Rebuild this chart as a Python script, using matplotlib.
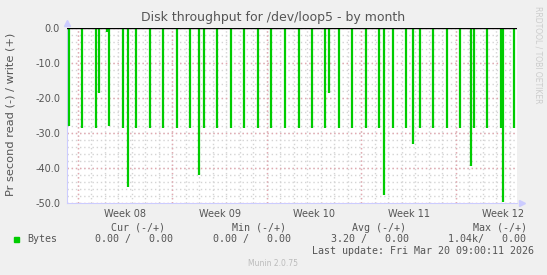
import matplotlib
matplotlib.use("Agg")
import matplotlib.pyplot as plt

# days counted from the start of Week 08 (Monday)
read_days = [-0.67, 0.30, 1.33, 1.56, 2.15, 2.30, 3.33, 3.70, 4.30, 5.33, 6.30,
             7.33, 8.30, 8.96, 9.33, 10.30, 11.33, 12.30, 13.33, 14.30, 15.33,
             16.37, 17.33, 18.30, 18.59, 19.33, 20.30, 21.33, 22.30, 22.67, 23.33,
             24.30, 24.81, 25.33, 26.30, 27.33, 28.30, 29.11, 29.33, 30.30, 31.33,
             31.48, 32.30]
read_vals = [-28.0, -28.5, -28.5, -18.5, -1.0, -28.0, -28.5, -45.5, -28.5, -28.5, -28.5,
             -28.5, -28.5, -42.0, -28.5, -28.5, -28.5, -28.5, -28.5, -28.5, -28.5,
             -28.5, -28.5, -28.5, -18.5, -28.5, -28.5, -28.5, -28.5, -47.7, -28.5,
             -28.5, -33.0, -28.5, -28.5, -28.5, -28.5, -39.3, -28.5, -28.5, -28.5,
             -49.6, -28.5]

week_starts = [0, 7, 14, 21, 28]
week_labels = ["Week 08", "Week 09", "Week 10", "Week 11", "Week 12"]
y_ticks = [0, -10, -20, -30, -40, -50]

col_heads = ["Cur (-/+)", "Min (-/+)", "Avg (-/+)", "Max (-/+)"]
col_vals = ["0.00 /   0.00", "0.00 /   0.00", "3.20 /   0.00", "1.04k/   0.00"]

TXT = "#555555"

fig = plt.figure(figsize=(5.47, 2.75), dpi=100, facecolor="#f0f0f0")
ax = fig.add_axes([67/547, 1-203/275, 450/547, 175/275], facecolor="white")

xmin, xmax = -0.81, 32.52
ax.set_xlim(xmin, xmax)
ax.set_ylim(-50, 0)

# grid: minor gray every day / 2 units, major red per week / 10 units
grid_ls = (0, (1, 2))
for d in range(0, 33):
    ax.axvline(d, color="#d4d4d4", lw=1.0, ls=grid_ls, zorder=1)
for v in range(-48, 0, 2):
    ax.axhline(v, color="#d4d4d4", lw=1.0, ls=grid_ls, zorder=1)
for d in week_starts:
    ax.axvline(d, color="#e4a8b0", lw=1.0, ls=grid_ls, zorder=2)
for v in y_ticks:
    ax.axhline(v, color="#e4a8b0", lw=1.0, ls=grid_ls, zorder=2)

ax.vlines(read_days, 0, read_vals, color="#00cc00", lw=1.6, zorder=3)
ax.axhline(0, color="black", lw=1.0, zorder=4)

ax.set_yticks(y_ticks)
ax.set_yticklabels([f"{v:.1f}" for v in y_ticks])
ax.set_xticks([d + 3.5 for d in week_starts])
ax.set_xticklabels(week_labels)
ax.tick_params(length=0, labelsize=7, labelcolor=TXT, pad=5)
ax.tick_params(axis="x", pad=4)
for s in ["top", "right"]:
    ax.spines[s].set_visible(False)
ax.spines["left"].set_color("#ccccff")
ax.spines["bottom"].set_color("#ccccff")
ax.plot([0], [1.03], marker="^", color="#ccccff", ms=4, transform=ax.transAxes, clip_on=False)
ax.plot([1.01], [0], marker=">", color="#ccccff", ms=4, transform=ax.transAxes, clip_on=False)

fig.text(273/547, 1-18/275, "Disk throughput for /dev/loop5 - by month",
         ha="center", va="center", fontsize=9.0, color=TXT)
fig.text(11/547, 1-114/275, "Pr second read (-) / write (+)", rotation=90,
         ha="center", va="center", fontsize=8.2, color=TXT)
fig.text(538/547, 1-55/275, "RRDTOOL / TOBI OETIKER", rotation=270,
         ha="center", va="center", fontsize=5.5, color="#cccccc")

mono = dict(family="DejaVu Sans Mono", fontsize=7.2, color=TXT, va="center")
for x, t in zip([111, 232, 352, 473], col_heads):
    fig.text(x/547, 1-228/275, t, **mono)
fig.patches.append(plt.Rectangle((14/547, 1-242/275), 5/547, 5/275,
                                 transform=fig.transFigure, color="#00cc00"))
fig.text(27/547, 1-239/275, "Bytes", **mono)
for x, t in zip([95, 213, 331, 448], col_vals):
    fig.text(x/547, 1-239/275, t, **mono)
fig.text(312/547, 1-251/275, "Last update: Fri Mar 20 09:00:11 2026", **mono)
fig.text(273/547, 1-264/275, "Munin 2.0.75", ha="center", va="center",
         fontsize=5.5, color="#bbbbbb")

plt.savefig("out.png", dpi=100, facecolor=fig.get_facecolor())
